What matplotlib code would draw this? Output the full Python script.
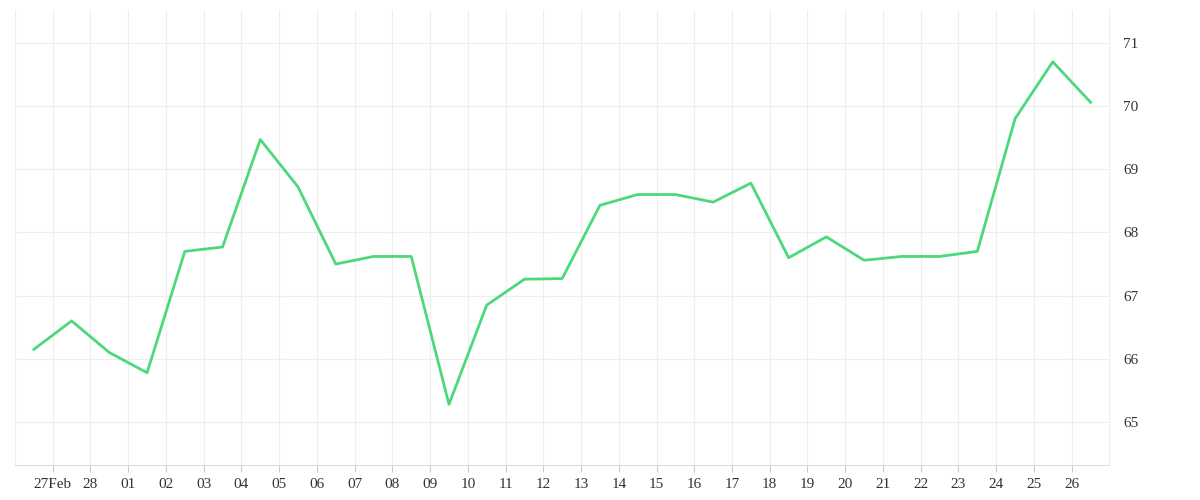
import matplotlib
matplotlib.use("Agg")
import matplotlib.pyplot as plt
import matplotlib.dates as mdates
import numpy as np
import datetime as dt

start = dt.datetime(2023, 2, 26, 12)
values = [66.15, 66.6, 66.1, 65.78, 67.7, 67.77, 69.47, 68.72, 67.5, 67.62, 67.62, 65.28,
          66.85, 67.26, 67.27, 68.43, 68.6, 68.6, 68.48, 68.78, 67.6, 67.93, 67.56, 67.62,
          67.62, 67.7, 69.8, 70.7, 70.06]
dates = [start + dt.timedelta(days=i) for i in range(len(values))]
tick_dates = [dt.datetime(2023, 2, 27) + dt.timedelta(days=i) for i in range(28)]
tick_labels = ["27Feb"] + [d.strftime("%d") for d in tick_dates[1:]]

fig = plt.figure(figsize=(12, 5), dpi=100)
ax = fig.add_axes([0.0125, 0.07, 0.912, 0.91])
ax.plot(dates, values, color="#4cd97b", lw=2)
ax.set_xlim(dt.datetime(2023, 2, 26), dt.datetime(2023, 3, 27))
ax.set_ylim(64.32, 71.52)
ax.set_xticks(tick_dates)
ax.set_xticklabels(tick_labels, family="Liberation Serif", fontsize=11, color="#333333")
ax.yaxis.tick_right()
ax.set_yticks(range(65, 72))
ax.tick_params(axis="y", which="both", length=0, labelsize=11, labelcolor="#333333", pad=10)
for l in ax.get_yticklabels():
    l.set_family("Liberation Serif")
ax.tick_params(axis="x", which="major", length=5, color="#cccccc", pad=4)
ax.grid(True, which="major", color="#eeeeee", lw=0.8)
ax.axvline(dt.datetime(2023, 2, 26), color="#eeeeee", lw=0.8)
for s in ax.spines.values():
    s.set_visible(False)
ax.spines["bottom"].set_visible(True)
ax.spines["bottom"].set_color("#dddddd")
ax.spines["right"].set_visible(True)
ax.spines["right"].set_color("#eeeeee")
fig.savefig("out.png")
